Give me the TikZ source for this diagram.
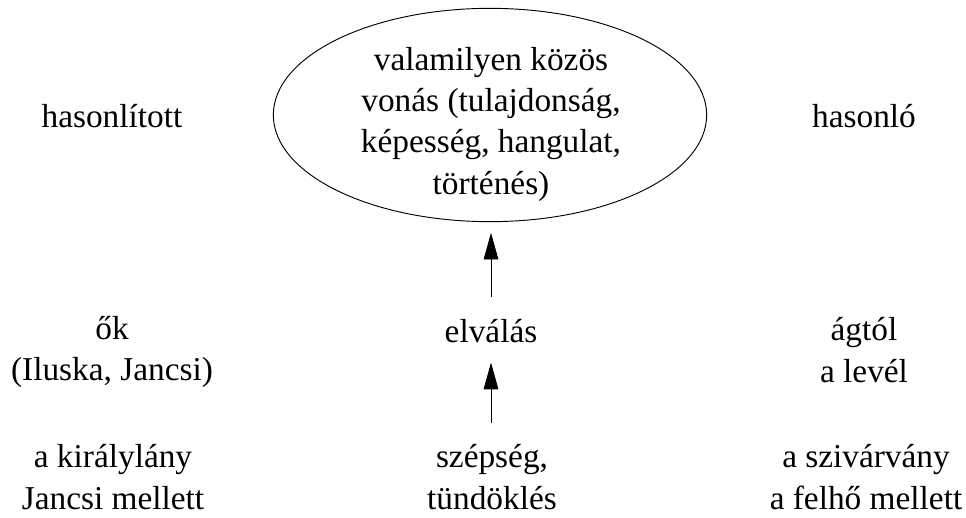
\documentclass[tikz,border=0pt]{standalone}
\usepackage{fontspec}
\setmainfont{Liberation Serif}
\usetikzlibrary{shapes.geometric,arrows.meta}
\tikzset{
  lbl/.style={font=\fontsize{25pt}{31pt}\selectfont, align=center, inner sep=0pt},
  bubble/.style={draw, ellipse, line width=0.7pt, inner sep=0pt, minimum width=325pt, minimum height=160pt},
  uparrow/.style={draw, line width=0.6pt, -{Triangle[length=20pt,width=11pt]}}
}
\begin{document}
\begin{tikzpicture}[x=0.75pt,y=-0.75pt]
\path[use as bounding box] (0,0) rectangle (966,517);
\node[bubble] (e) at (490,115) {};
\node[lbl] (etext) at (491,124) {valamilyen közös\\vonás (tulajdonság,\\képesség, hangulat,\\történés)};
\node[lbl, anchor=base] (hl) at (112,127) {hasonlított};
\node[lbl, anchor=base] (hr) at (864,127) {hasonló};
\node[lbl] (ml) at (112,352) {ők\\(Iluska, Jancsi)};
\node[lbl, anchor=base] (mm) at (491,342) {elválás};
\node[lbl] (mr) at (864,350) {ágtól\\a levél};
\node[lbl] (bl) at (113,477) {a királylány\\Jancsi mellett};
\node[lbl] (bm) at (492,477) {szépség,\\tündöklés};
\node[lbl] (br) at (866,477) {a szivárvány\\a felhő mellett};
\draw[uparrow, shorten <=16pt, shorten >=8pt] (mm.north) -- (mm.north |- e.south);
\draw[uparrow, shorten <=16pt, shorten >=15pt] (bm.north -| mm.south) -- (mm.south);
\end{tikzpicture}
\end{document}
